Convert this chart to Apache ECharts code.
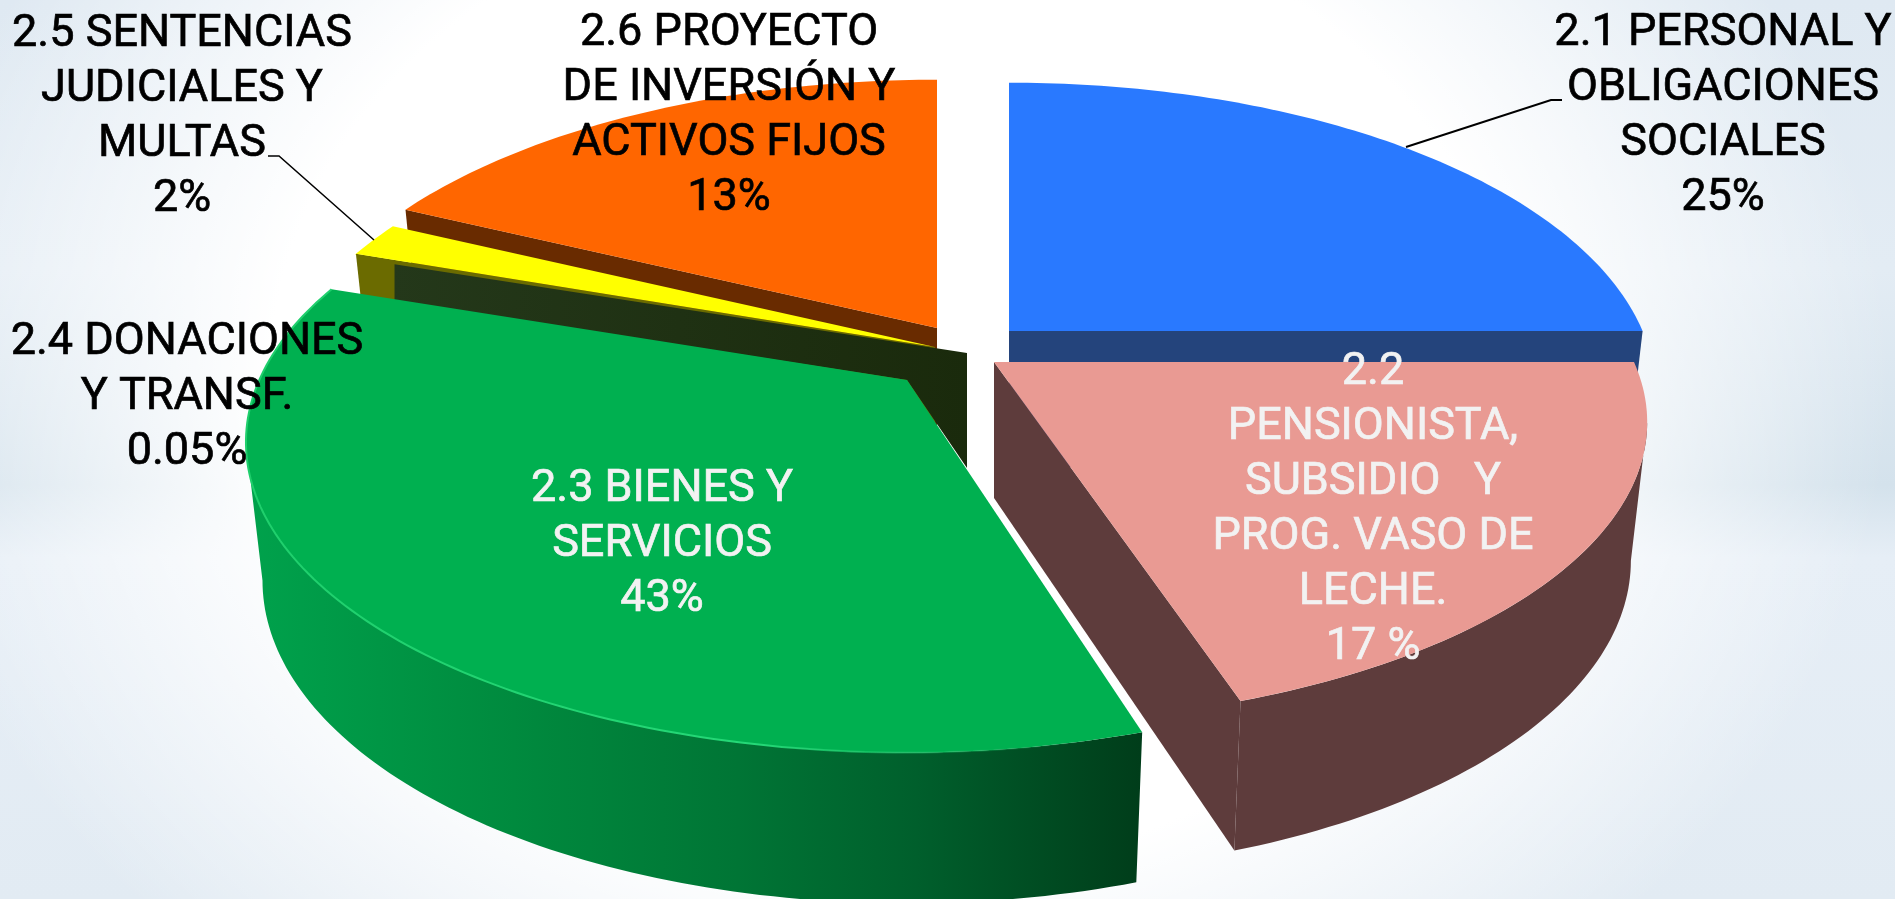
<!DOCTYPE html>
<html>
<head>
<meta charset="utf-8">
<style>
html,body{margin:0;padding:0;width:1895px;height:899px;overflow:hidden;
background:
 radial-gradient(ellipse 1000px 800px at 47% 42%, #ffffff 62%, rgba(255,255,255,0) 100%),
 linear-gradient(180deg,#dfe9f2 0%,#e3ecf4 30%,#d4e2ec 54%,#e6eef6 62%,#e2ebf3 100%);}
#c{width:1895px;height:899px;}
</style>
<script src="https://cdn.jsdelivr.net/npm/echarts@6/dist/echarts.min.js"></script>
</head>
<body>
<div id="c"></div>
<script>
// Category names and the percentages as printed on the chart
const categories = ['2.1 PERSONAL Y\nOBLIGACIONES\nSOCIALES','2.2\nPENSIONISTA,\nSUBSIDIO   Y\nPROG. VASO DE\nLECHE.','2.3 BIENES Y\nSERVICIOS','2.4 DONACIONES\nY TRANSF.','2.5 SENTENCIAS\nJUDICIALES Y\nMULTAS','2.6 PROYECTO\nDE INVERSIÓN Y\nACTIVOS FIJOS'];
const printedPercent = ['25%','17 %','43%','0.05%','2%','13%'];
// Slice sizes as read from the picture's geometry (its 3D wedges are not drawn to the printed numbers)
const drawnShare = [25, 19.95, 35.3, 0.05, 1.8, 17.9];

const topColors = ['#2979ff','#e99a93','#00b050','#ffff00','#ffff00','#ff6600'];
const wallColors = ['#24447c','#5e3c3c','#007535','#6b6b00','#6b6b00','#692b00'];
const textColors = ['#000000','#f2f2f2','#f2f2f2','#000000','#000000','#000000'];
const apexes = [[1009,331],[994,362],[907,380],[935,347],[935,347],[937,328]];
const rxScale = [0.99,1,1.012,1.02,1.02,1];
const ryScale = [1,0.97,1,1.02,1.02,1];
const edgeTrim = [[0,0],[0,0],[1.1,0],[0,0],[0,0],[0,0]];
const labelCenters = [[1723,116],[1373,510],[662,545],[187,398],[182,117],[729,116]];
const faceEdge = ['end','end',null,null,'start','start'];
const leaders = [[[1406,147],[1551,100],[1562,100]],null,null,null,[[268,156],[279,156],[374,240]],null];
const drawOrder = [3,5,4,0,1,2];

const A = 640, B = 298, K = 0.2, DEPTH = 136, XS = 0.975, YS = 1.04;
const FONT = '45px Roboto, sans-serif', LINE = 55;
const EXTREME = Math.acos(-K) * 180 / Math.PI;   // where the rim is widest on screen

const angles = []; let acc = 0;
drawnShare.forEach(function (s, i) {
  angles.push([acc * 3.6 + edgeTrim[i][0], (acc + s) * 3.6 + edgeTrim[i][1]]); acc += s;
});

function rim(i, deg, low) {
  const t = deg * Math.PI / 180, w = 1 + K * Math.cos(t);
  const X = rxScale[i] * A * Math.sin(t) / w, Y = -ryScale[i] * B * Math.cos(t) / w;
  return low ? [apexes[i][0] + X * XS, apexes[i][1] + DEPTH + Y * YS]
             : [apexes[i][0] + X, apexes[i][1] + Y];
}
function arc(i, a, b, low) {
  const pts = [], n = Math.max(2, Math.ceil(Math.abs(b - a)));
  for (let j = 0; j <= n; j++) pts.push(rim(i, a + (b - a) * j / n, low));
  return pts;
}
const poly = (pts, fill, z2) => ({ type: 'polygon', z2, shape: { points: pts }, style: { fill } });
const hg = (x0, x1, stops) => ({ type: 'linear', x: x0, y: 0, x2: x1, y2: 0, global: true,
  colorStops: stops.map(s => ({ offset: s[0], color: s[1] })) });

function renderSlice(params) {
  const order = params.dataIndex, i = drawOrder[order], base = 10 + order * 5;
  const [a, b] = angles[i], apex = apexes[i], low = [apex[0], apex[1] + DEPTH];
  const kids = [];
  // side facing the viewer, between the widest points of the rim
  const ra = Math.max(a, EXTREME), rb = Math.min(b, 360 - EXTREME);
  let wallFill = wallColors[i];
  if (i === 2) {
    wallFill = hg(245, 1141, [[0,'#00a24c'],[0.3,'#008a3e'],[0.55,'#007535'],[0.75,'#005f2c'],[1,'#003d1a']]);
    // the dark inner wall behind the green wedge
    const p = rim(i, b, false);
    kids.push(poly([[p[0] + 63, p[1] - 25], [apex[0] + 60, apex[1] - 27], [apex[0] + 60, apex[1] + 88], apex, [p[0] + 63, p[1] + 12]],
      hg(392, 967, [[0,'#24381a'],[1,'#1a2a0c']]), base));
  }
  if (rb > ra && (i === 1 || i === 2)) {
    kids.push(poly(arc(i, ra, rb, false).concat(arc(i, rb, ra, true)), wallFill, base + 1));
  }
  if (faceEdge[i]) {
    const d = faceEdge[i] === 'end' ? b : a;
    kids.push(poly([apex, rim(i, d, false), rim(i, d, true), low], wallColors[i], base + 1));
  }
  // top surface
  kids.push(poly([apex].concat(arc(i, a, b, false)), topColors[i], base + 2));
  if (i === 2) {
    kids.push({ type: 'polyline', z2: base + 3, shape: { points: arc(i, b, a, false) },
      style: { fill: null, lineWidth: 2, stroke: hg(245, 1100, [[0,'#1fcf6c'],[0.6,'#25d877'],[1,'rgba(0,176,80,0)']]) } });
  }
  // leader and label
  if (leaders[i]) {
    kids.push({ type: 'polyline', z2: 100, shape: { points: leaders[i] },
      style: { fill: null, stroke: '#000', lineWidth: i === 0 ? 2 : 1.5 } });
  }
  kids.push({ type: 'text', z2: 101, style: {
    text: categories[i] + '\n' + printedPercent[i],
    x: labelCenters[i][0], y: labelCenters[i][1], align: 'center', verticalAlign: 'middle',
    font: FONT, lineHeight: LINE, fill: textColors[i],
    stroke: textColors[i], lineWidth: 0.7 } });
  return { type: 'group', children: kids };
}

const chart = echarts.init(document.getElementById('c'));
chart.setOption({
  animation: false,
  backgroundColor: 'transparent',
  series: [{
    type: 'custom', coordinateSystem: 'none', silent: true,
    renderItem: renderSlice,
    data: drawOrder.map(i => ({ name: categories[i], value: [drawnShare[i]] }))
  }]
});
</script>
</body>
</html>
